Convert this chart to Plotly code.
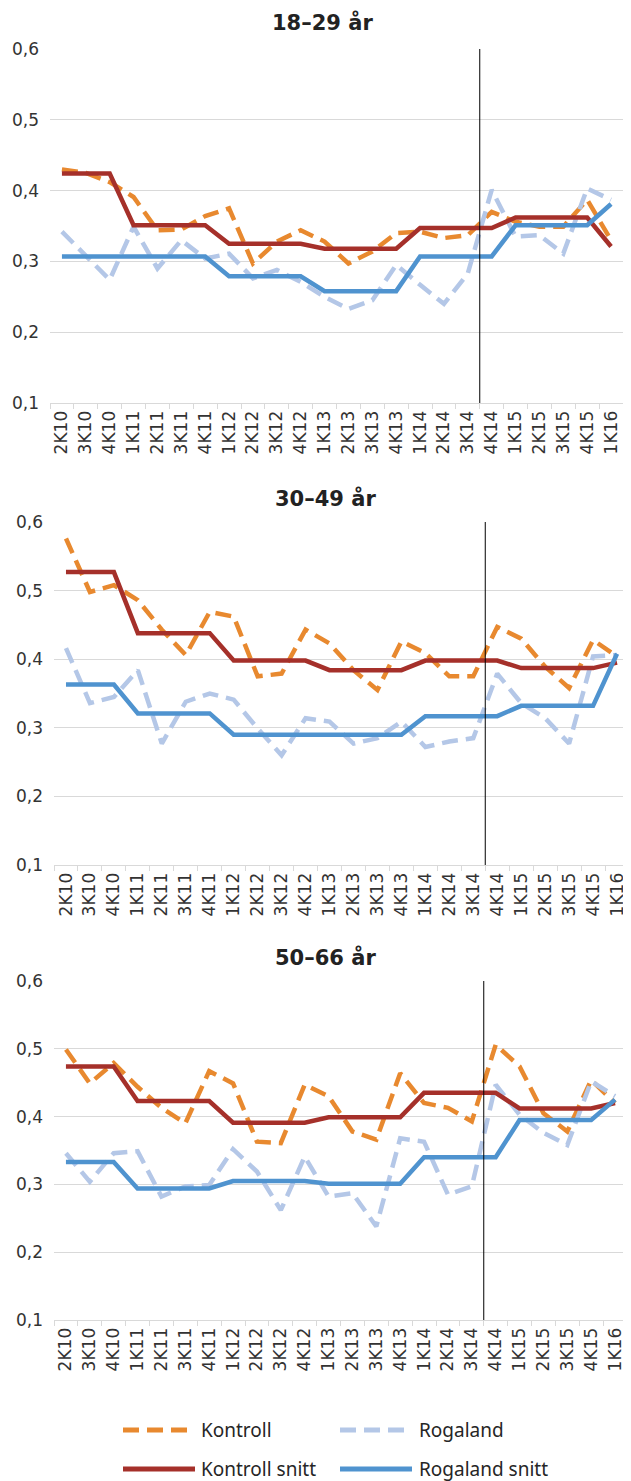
import plotly.graph_objects as go

# the page puts the figure 8px in from the top-left corner, so the figure is
# made 8px smaller and every pixel position below is shifted by that offset
PAGE_OFFSET = 8
W, H = 631 - PAGE_OFFSET, 1481 - PAGE_OFFSET

quarters = ["2K10", "3K10", "4K10", "1K11", "2K11", "3K11", "4K11", "1K12",
            "2K12", "3K12", "4K12", "1K13", "2K13", "3K13", "4K13", "1K14",
            "2K14", "3K14", "4K14", "1K15", "2K15", "3K15", "4K15", "1K16"]
reform_quarter = "4K14"

# 18-29 år
kontroll_1829 = [0.430, 0.425, 0.412, 0.391, 0.344, 0.345, 0.364, 0.375, 0.297, 0.328, 0.344, 0.328,
                 0.297, 0.314, 0.340, 0.342, 0.333, 0.337, 0.370, 0.356, 0.349, 0.349, 0.387, 0.330]
rogaland_1829 = [0.342, 0.307, 0.274, 0.349, 0.290, 0.330, 0.304, 0.311, 0.276, 0.288, 0.271, 0.250,
                 0.233, 0.245, 0.295, 0.267, 0.240, 0.283, 0.401, 0.335, 0.337, 0.311, 0.403, 0.387]
kontroll_snitt_1829 = [0.424, 0.424, 0.424, 0.351, 0.351, 0.351, 0.351, 0.325, 0.325, 0.325, 0.325, 0.318,
                       0.318, 0.318, 0.318, 0.347, 0.347, 0.347, 0.347, 0.362, 0.362, 0.362, 0.362, 0.321]
rogaland_snitt_1829 = [0.307, 0.307, 0.307, 0.307, 0.307, 0.307, 0.307, 0.279, 0.279, 0.279, 0.279, 0.258,
                       0.258, 0.258, 0.258, 0.307, 0.307, 0.307, 0.307, 0.351, 0.351, 0.351, 0.351, 0.381]

# 30-49 år
kontroll_3049 = [0.576, 0.498, 0.508, 0.486, 0.443, 0.406, 0.469, 0.462, 0.375, 0.379, 0.443, 0.423,
                 0.384, 0.355, 0.426, 0.409, 0.375, 0.375, 0.447, 0.430, 0.389, 0.358, 0.428, 0.404]
rogaland_3049 = [0.416, 0.336, 0.345, 0.384, 0.277, 0.338, 0.350, 0.341, 0.299, 0.260, 0.314, 0.309,
                 0.277, 0.285, 0.309, 0.272, 0.280, 0.285, 0.379, 0.336, 0.314, 0.277, 0.404, 0.406]
kontroll_snitt_3049 = [0.527, 0.527, 0.527, 0.438, 0.438, 0.438, 0.438, 0.398, 0.398, 0.398, 0.398, 0.384,
                       0.384, 0.384, 0.384, 0.398, 0.398, 0.398, 0.398, 0.387, 0.387, 0.387, 0.387, 0.395]
rogaland_snitt_3049 = [0.363, 0.363, 0.363, 0.321, 0.321, 0.321, 0.321, 0.290, 0.290, 0.290, 0.290, 0.290,
                       0.290, 0.290, 0.290, 0.317, 0.317, 0.317, 0.317, 0.332, 0.332, 0.332, 0.332, 0.408]

# 50-66 år
kontroll_5066 = [0.499, 0.449, 0.479, 0.444, 0.413, 0.390, 0.467, 0.449, 0.363, 0.361, 0.447, 0.430,
                 0.378, 0.366, 0.464, 0.420, 0.413, 0.393, 0.506, 0.474, 0.405, 0.378, 0.454, 0.420]
rogaland_5066 = [0.346, 0.304, 0.346, 0.349, 0.282, 0.297, 0.299, 0.352, 0.319, 0.262, 0.341, 0.282,
                 0.287, 0.238, 0.368, 0.363, 0.285, 0.297, 0.447, 0.403, 0.376, 0.358, 0.452, 0.430]
kontroll_snitt_5066 = [0.474, 0.474, 0.474, 0.423, 0.423, 0.423, 0.423, 0.391, 0.391, 0.391, 0.391, 0.399,
                       0.399, 0.399, 0.399, 0.435, 0.435, 0.435, 0.435, 0.412, 0.412, 0.412, 0.412, 0.420]
rogaland_snitt_5066 = [0.333, 0.333, 0.333, 0.294, 0.294, 0.294, 0.294, 0.305, 0.305, 0.305, 0.305, 0.301,
                       0.301, 0.301, 0.301, 0.340, 0.340, 0.340, 0.340, 0.395, 0.395, 0.395, 0.395, 0.425]

panels = [
    ("18–29 år", kontroll_1829, rogaland_1829, kontroll_snitt_1829, rogaland_snitt_1829),
    ("30–49 år", kontroll_3049, rogaland_3049, kontroll_snitt_3049, rogaland_snitt_3049),
    ("50–66 år", kontroll_5066, rogaland_5066, kontroll_snitt_5066, rogaland_snitt_5066),
]

names = ["Kontroll", "Rogaland", "Kontroll snitt", "Rogaland snitt"]
colors = ["#E8892F", "#B4C7E7", "#A5302A", "#4F93CF"]
dashes = ["16px,8px", "16px,8px", "solid", "solid"]

# plot boxes in page pixels: (left, right, top, bottom) and title centre
boxes = [(50, 623, 49, 403), (54, 629, 522, 865), (54, 627, 981, 1320)]
title_pos = [(322, 22), (325, 499), (325, 957)]

TICK_FONT = dict(family="DejaVu Sans", size=17, color="#333333")


def px_x(x):
    return (x - PAGE_OFFSET) / W


def px_y(y):
    return 1 - (y - PAGE_OFFSET) / H


fig = go.Figure()
layout = {}
shapes = []
annotations = []

for i, (title, kon, rog, kon_s, rog_s) in enumerate(panels):
    n = "" if i == 0 else str(i + 1)
    xa, ya = "x" + n, "y" + n
    for name, vals, col, dash in zip(names, [kon, rog, kon_s, rog_s], colors, dashes):
        fig.add_trace(go.Scatter(
            x=quarters, y=vals, mode="lines", name=name, showlegend=False,
            line=dict(color=col, width=4.5, dash=dash),
            xaxis=xa, yaxis=ya, hoverinfo="skip",
        ))
    l, r, t, b = boxes[i]
    layout["xaxis" + n] = dict(
        domain=[px_x(l), min(px_x(r), 1)], anchor=ya, type="category",
        categoryorder="array", categoryarray=quarters,
        range=[-0.5, len(quarters) - 0.5], automargin=False,
        tickson="boundaries", ticks="outside", ticklen=5, tickcolor="#D9D9D9",
        tickangle=-90, tickfont=TICK_FONT, showgrid=False,
        showline=True, linecolor="#D9D9D9", linewidth=1, zeroline=False,
    )
    layout["yaxis" + n] = dict(
        domain=[px_y(b), px_y(t)], anchor=xa, range=[0.1, 0.6], dtick=0.1,
        tick0=0.1, tickformat=".1f", showgrid=True, gridcolor="#D9D9D9",
        gridwidth=1, zeroline=False, showline=False, ticks="", automargin=False,
        tickfont=TICK_FONT, ticklabelstandoff=10,
    )
    # vertical marker before the reform quarter
    pos = quarters.index(reform_quarter) - 0.5
    shapes.append(dict(type="line", xref=xa, yref=ya + " domain",
                       x0=pos, x1=pos, y0=0, y1=1,
                       line=dict(color="#000000", width=1)))
    tx, ty = title_pos[i]
    annotations.append(dict(text="<b>" + title + "</b>", xref="paper", yref="paper",
                            x=px_x(tx), y=px_y(ty), showarrow=False,
                            xanchor="center", yanchor="middle",
                            font=dict(family="DejaVu Sans", size=21, color="#222222")))

# hand-drawn legend (two rows, long line samples)
legend_items = [
    (names[0], colors[0], "dash", 123, 187, 199, 1430),
    (names[1], colors[1], "dash", 340, 405, 417, 1430),
    (names[2], colors[2], "solid", 123, 195, 199, 1469),
    (names[3], colors[3], "solid", 340, 412, 417, 1469),
]
for name, col, dash, x0, x1, tx, y in legend_items:
    shapes.append(dict(type="line", xref="paper", yref="paper",
                       x0=px_x(x0), x1=px_x(x1), y0=px_y(y), y1=px_y(y),
                       line=dict(color=col, width=5,
                                 dash="16px,8px" if dash == "dash" else "solid")))
    annotations.append(dict(text=name, xref="paper", yref="paper",
                            x=px_x(tx), y=px_y(y), showarrow=False,
                            xanchor="left", yanchor="middle",
                            font=dict(family="Noto Sans", size=19, color="#262626")))

fig.update_layout(
    width=W, height=H,
    margin=dict(l=0, r=0, t=0, b=0),
    paper_bgcolor="white", plot_bgcolor="white",
    separators=", ",
    showlegend=False,
    shapes=shapes, annotations=annotations,
    **layout,
)

fig.write_html("out.html")
